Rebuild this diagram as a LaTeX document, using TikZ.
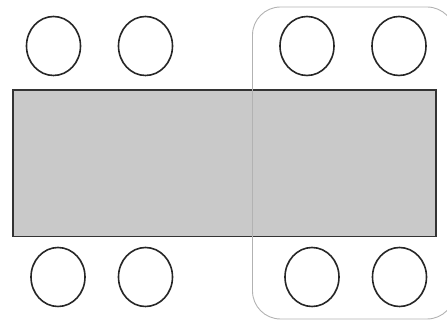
\documentclass[tikz,border=0pt]{standalone}
\usetikzlibrary{shapes.geometric}
\begin{document}
\begin{tikzpicture}[x=1pt,y=-1pt,
  seat/.style={ellipse,draw=black!85,line width=1.6pt,fill=white,minimum width=54pt,minimum height=59pt,inner sep=0pt,outer sep=0pt},
  tablebox/.style={draw=black!80,line width=1.6pt,fill=black!21},
  groupbox/.style={draw=black!30,line width=0.9pt,rounded corners=28pt}]
\useasboundingbox (0,0) rectangle (447,320);
\clip (0,0) rectangle (447,320);
\node[seat] (t1) at (53.5,46) {};
\node[seat] (t2) at (145.5,46) {};
\node[seat] (t3) at (307,46) {};
\node[seat] (t4) at (399,46) {};
\node[seat] (b1) at (58,277) {};
\node[seat] (b2) at (145.5,277) {};
\node[seat] (b3) at (312,277) {};
\node[seat] (b4) at (399.5,277) {};
\draw[tablebox] (12.7,90) rectangle (435.7,236.7);
\draw[groupbox] (252.5,7) rectangle (455,319);
\end{tikzpicture}
\end{document}
